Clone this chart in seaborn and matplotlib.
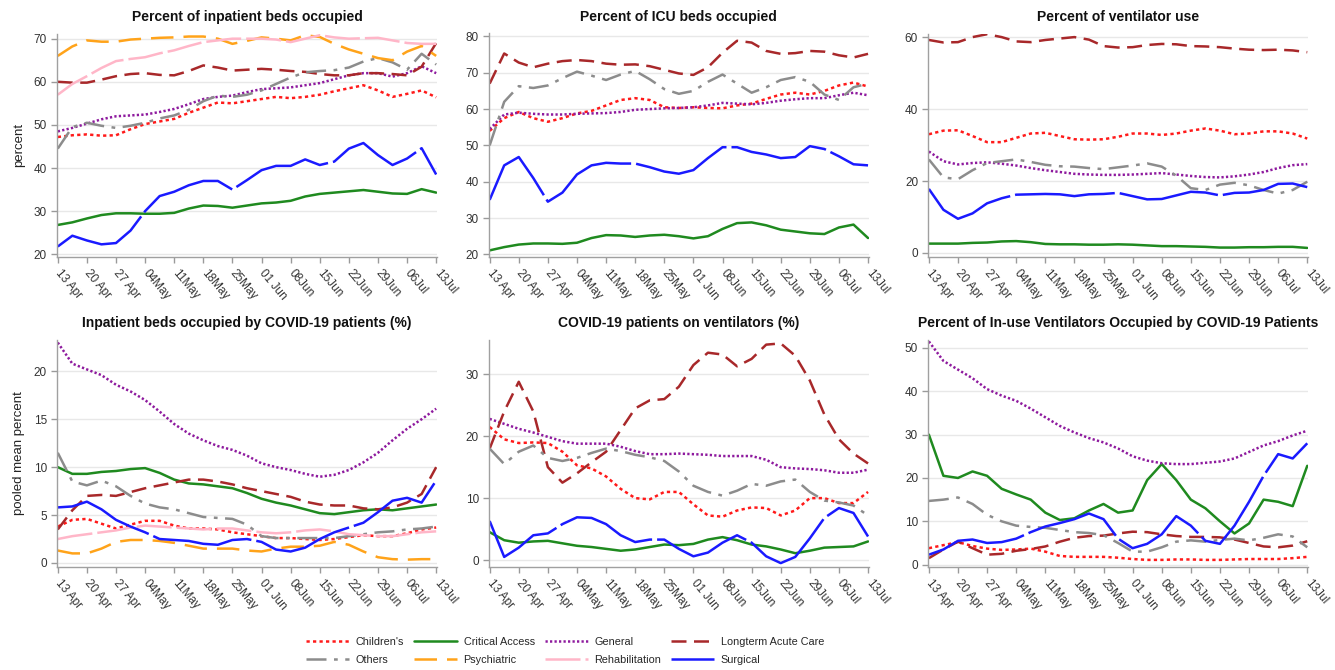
"""
Hospital capacity by hospital type, 13 Apr - 13 Jul (six small panels).
Values read off the reference at half-week steps.
"""
import numpy as np
import pandas as pd
import matplotlib
matplotlib.use("Agg")
import matplotlib.pyplot as plt
from matplotlib.lines import Line2D
import seaborn as sns

# ── data ──────────────────────────────────────────────────────────────────
START = "2020-04-13"
N_POINTS = 27                       # every 3.5 days
TICK_LABELS = ["13 Apr", "20 Apr", "27 Apr", "04May", "11May", "18May", "25May",
               "01 Jun", "08Jun", "15Jun", "22Jun", "29Jun", "06Jul", "13Jul"]

TYPES = ["Children's", "Critical Access", "General", "Longterm Acute Care",
         "Others", "Psychiatric", "Rehabilitation", "Surgical"]

# panel 1 - percent of inpatient beds occupied
beds_childrens = [47.2, 47.6, 47.8, 47.5, 47.6, 49.0, 50.2, 50.8, 51.4, 52.8, 54.0, 55.2, 55.0, 55.5,
                  56.0, 56.5, 56.2, 56.5, 57.0, 57.8, 58.5, 59.2, 58.0, 56.5, 57.2, 58.0, 56.4]
beds_critical = [26.8, 27.4, 28.3, 29.1, 29.5, 29.5, 29.4, 29.4, 29.6, 30.6, 31.3, 31.2, 30.8, 31.3,
                 31.8, 32.0, 32.4, 33.4, 34.0, 34.3, 34.6, 34.9, 34.5, 34.1, 34.0, 35.1, 34.3]
beds_general = [48.5, 49.3, 50.3, 51.3, 52.0, 52.2, 52.4, 53.0, 53.7, 54.8, 56.0, 56.5, 56.8, 57.6,
                58.3, 58.5, 58.7, 59.2, 59.7, 60.6, 61.5, 62.0, 62.0, 61.2, 62.0, 63.6, 62.0]
beds_longterm = [60.0, 59.8, 59.8, 60.5, 61.3, 61.8, 62.0, 61.6, 61.5, 62.5, 63.8, 63.3, 62.6, 62.8,
                 63.0, 62.8, 62.5, 62.3, 61.8, 61.5, 61.5, 62.0, 62.0, 61.8, 61.5, 63.5, 69.0]
beds_others = [44.5, 49.5, 50.5, 49.8, 49.3, 49.8, 50.5, 51.5, 52.2, 53.5, 55.5, 56.8, 56.5, 57.0,
               58.0, 59.5, 61.0, 62.2, 62.5, 62.7, 63.3, 64.7, 65.5, 64.5, 62.8, 66.5, 64.0]
beds_psych = [66.0, 68.2, 69.6, 69.3, 69.3, 69.8, 70.0, 70.2, 70.3, 70.5, 70.5, 70.0, 68.8, 69.5,
              70.3, 70.0, 69.6, 70.8, 70.4, 68.8, 67.5, 66.5, 65.5, 65.0, 67.0, 68.3, 66.0]
beds_rehab = [57.0, 59.5, 61.3, 63.2, 64.8, 65.3, 65.7, 66.6, 67.3, 68.3, 69.2, 69.6, 70.0, 70.0,
              70.0, 69.8, 69.2, 70.0, 70.8, 70.3, 70.0, 70.1, 70.2, 69.6, 69.0, 68.8, 68.8]
beds_surgical = [21.8, 24.3, 23.2, 22.3, 22.6, 25.5, 30.0, 33.5, 34.5, 36.0, 37.0, 37.0, 35.0, 37.2,
                 39.5, 40.5, 40.5, 42.0, 40.7, 41.5, 44.5, 45.8, 43.0, 40.7, 42.2, 44.6, 38.5]

# panel 2 - percent of ICU beds occupied
icu_childrens = [54.0, 57.5, 59.2, 57.5, 56.5, 57.5, 58.8, 59.5, 61.0, 62.5, 63.0, 62.5, 60.5, 60.3,
                 60.5, 60.3, 60.2, 61.0, 61.5, 62.8, 64.0, 64.5, 64.0, 65.0, 66.5, 67.3, 66.2]
icu_critical = [21.1, 22.0, 22.7, 23.0, 23.0, 22.9, 23.2, 24.5, 25.3, 25.2, 24.8, 25.2, 25.4, 25.0,
                24.4, 25.0, 27.0, 28.6, 28.8, 28.0, 26.8, 26.3, 25.8, 25.6, 27.4, 28.2, 24.5]
icu_general = [54.5, 58.5, 59.0, 58.7, 58.5, 58.5, 58.7, 58.8, 58.9, 59.2, 59.8, 60.0, 60.2, 60.3,
               60.5, 61.0, 61.7, 61.5, 61.3, 61.7, 62.3, 62.7, 63.0, 63.0, 63.8, 64.5, 63.8]
icu_longterm = [67.0, 75.3, 72.8, 71.5, 72.5, 73.2, 73.5, 73.2, 72.5, 72.2, 72.3, 71.8, 70.8, 69.8,
                69.4, 71.5, 75.5, 78.8, 78.3, 76.0, 75.2, 75.4, 76.0, 75.8, 74.8, 74.2, 75.2]
icu_others = [50.0, 62.0, 66.3, 65.8, 66.5, 68.5, 70.3, 69.2, 68.0, 69.5, 70.5, 68.2, 65.5, 64.2,
              65.0, 67.5, 69.5, 67.0, 64.5, 66.0, 68.0, 68.8, 67.5, 64.0, 62.5, 66.0, 67.0]
icu_surgical = [35.0, 44.5, 46.8, 41.0, 34.5, 37.0, 42.0, 44.5, 45.2, 45.0, 45.0, 44.0, 42.8, 42.2,
                43.2, 46.5, 49.5, 49.5, 48.2, 47.5, 46.5, 46.8, 49.8, 49.0, 47.0, 44.8, 44.5]

# panel 3 - percent of ventilator use
vent_childrens = [33.0, 34.0, 34.1, 32.5, 30.8, 30.8, 32.0, 33.2, 33.4, 32.5, 31.6, 31.5, 31.6, 32.3,
                  33.2, 33.2, 32.8, 33.2, 34.0, 34.6, 34.0, 33.0, 33.2, 33.8, 33.8, 33.2, 31.8]
vent_critical = [2.6, 2.6, 2.6, 2.8, 2.9, 3.2, 3.3, 3.0, 2.5, 2.4, 2.4, 2.3, 2.3, 2.4,
                 2.3, 2.1, 1.9, 1.9, 1.8, 1.7, 1.5, 1.5, 1.6, 1.6, 1.7, 1.7, 1.4]
vent_general = [28.2, 25.5, 24.6, 25.0, 25.2, 24.8, 24.3, 23.6, 23.0, 22.5, 22.0, 21.8, 21.7, 21.7,
                21.8, 22.0, 22.2, 21.8, 21.4, 21.1, 21.0, 21.3, 21.8, 22.5, 23.6, 24.4, 24.7]
vent_longterm = [59.2, 58.5, 58.6, 60.0, 60.8, 60.0, 58.8, 58.6, 59.2, 59.6, 60.0, 59.3, 57.5, 57.1,
                 57.2, 57.8, 58.1, 58.0, 57.5, 57.4, 57.2, 56.8, 56.5, 56.4, 56.5, 56.3, 55.8]
vent_others = [26.0, 21.0, 20.5, 23.0, 25.0, 25.5, 26.0, 25.3, 24.5, 24.1, 24.0, 23.6, 23.3, 23.8,
               24.3, 24.9, 24.0, 21.5, 18.0, 17.5, 19.0, 19.5, 18.8, 17.5, 16.5, 17.5, 19.8]
vent_surgical = [17.8, 12.0, 9.5, 11.0, 13.8, 15.2, 16.2, 16.3, 16.4, 16.3, 15.8, 16.3, 16.4, 16.7,
                 15.8, 14.9, 15.0, 16.0, 17.0, 16.8, 16.0, 16.7, 16.8, 17.5, 19.2, 19.3, 18.3]

# panel 4 - inpatient beds occupied by COVID-19 patients (%)
covbeds_childrens = [3.8, 4.5, 4.6, 4.1, 3.6, 4.0, 4.4, 4.4, 3.9, 3.6, 3.6, 3.5, 3.2, 3.0,
                     2.8, 2.6, 2.6, 2.5, 2.4, 2.5, 2.7, 2.9, 2.8, 2.8, 3.1, 3.5, 3.7]
covbeds_critical = [10.0, 9.3, 9.3, 9.5, 9.6, 9.8, 9.9, 9.4, 8.7, 8.3, 8.2, 8.0, 7.8, 7.3,
                    6.7, 6.3, 6.0, 5.6, 5.2, 5.1, 5.3, 5.5, 5.6, 5.5, 5.7, 5.9, 6.1]
covbeds_general = [23.0, 20.8, 20.2, 19.6, 18.6, 17.9, 17.0, 15.8, 14.5, 13.5, 12.8, 12.2, 11.8, 11.2,
                   10.4, 10.0, 9.7, 9.3, 9.0, 9.2, 9.7, 10.5, 11.5, 12.8, 14.0, 15.0, 16.1]
covbeds_longterm = [3.5, 5.5, 7.0, 7.1, 7.0, 7.4, 7.8, 8.1, 8.4, 8.7, 8.7, 8.5, 8.2, 7.8,
                    7.5, 7.2, 6.9, 6.4, 6.1, 6.0, 6.0, 5.7, 5.6, 5.8, 6.3, 7.2, 10.0]
covbeds_others = [11.5, 8.5, 8.1, 8.6, 8.0, 7.0, 6.2, 5.8, 5.6, 5.2, 4.8, 4.7, 4.6, 4.0,
                  2.8, 2.6, 2.6, 2.6, 2.6, 2.6, 2.8, 3.0, 3.2, 3.3, 3.5, 3.6, 3.8]
covbeds_psych = [1.3, 1.0, 1.0, 1.5, 2.2, 2.4, 2.4, 2.3, 2.1, 1.8, 1.5, 1.5, 1.5, 1.3,
                 1.2, 1.5, 1.7, 1.7, 1.8, 2.2, 1.9, 1.2, 0.6, 0.4, 0.35, 0.4, 0.4]
covbeds_rehab = [2.5, 2.8, 3.0, 3.2, 3.4, 3.7, 3.9, 3.8, 3.7, 3.6, 3.5, 3.6, 3.6, 3.4,
                 3.2, 3.1, 3.2, 3.4, 3.5, 3.3, 3.0, 2.9, 2.8, 2.8, 3.0, 3.2, 3.3]
covbeds_surgical = [5.8, 5.9, 6.4, 5.6, 4.5, 3.8, 3.2, 2.5, 2.4, 2.3, 2.0, 1.9, 2.4, 2.5,
                    2.2, 1.4, 1.2, 1.6, 2.5, 3.2, 3.7, 4.2, 5.3, 6.5, 6.8, 6.3, 8.6]

# panel 5 - COVID-19 patients on ventilators (%)
covvent_childrens = [21.5, 19.5, 18.9, 19.0, 18.9, 17.5, 15.3, 14.8, 13.5, 11.5, 10.0, 9.8, 11.0, 11.0,
                     9.0, 7.2, 7.0, 8.0, 8.5, 8.4, 7.2, 8.0, 10.0, 10.0, 9.2, 9.2, 11.0]
covvent_critical = [4.5, 3.2, 2.8, 3.0, 3.1, 2.7, 2.3, 2.1, 1.8, 1.5, 1.7, 2.1, 2.5, 2.4,
                    2.6, 3.3, 3.7, 3.2, 2.5, 2.2, 1.7, 1.1, 1.5, 2.0, 2.1, 2.2, 3.0]
covvent_general = [22.8, 22.0, 21.2, 20.6, 19.9, 19.2, 18.8, 18.8, 18.8, 18.3, 17.6, 17.1, 17.1, 17.2,
                   17.1, 17.0, 16.8, 16.8, 16.8, 16.2, 15.0, 14.8, 14.7, 14.5, 14.1, 14.1, 14.6]
covvent_longterm = [18.0, 24.0, 28.8, 24.0, 15.0, 12.5, 14.0, 15.8, 17.5, 21.0, 24.5, 25.8, 26.0, 28.0,
                    31.5, 33.5, 33.2, 31.3, 32.5, 34.8, 35.0, 33.0, 29.0, 23.5, 19.5, 17.2, 15.6]
covvent_others = [18.0, 15.5, 17.5, 18.5, 16.5, 16.0, 16.5, 17.3, 18.0, 17.6, 17.0, 16.6, 16.0, 14.3,
                  12.0, 11.0, 10.4, 11.2, 12.3, 12.0, 12.7, 13.0, 11.0, 9.6, 9.3, 8.8, 7.2]
covvent_surgical = [6.3, 0.5, 2.0, 4.0, 4.3, 5.8, 6.9, 6.8, 5.8, 4.0, 2.9, 3.3, 3.3, 1.8,
                    0.6, 1.2, 2.8, 4.0, 2.8, 0.6, -0.5, 0.5, 3.5, 6.8, 8.4, 7.6, 3.8]

# panel 6 - percent of in-use ventilators occupied by COVID-19 patients
inuse_childrens = [3.8, 4.5, 5.2, 4.3, 3.7, 3.4, 3.5, 3.7, 3.0, 2.0, 1.8, 1.8, 1.8, 1.6,
                   1.3, 1.1, 1.1, 1.2, 1.2, 1.1, 1.1, 1.2, 1.3, 1.3, 1.3, 1.5, 1.8]
inuse_critical = [30.0, 20.5, 20.0, 21.5, 20.5, 17.5, 16.2, 15.0, 12.0, 10.3, 10.7, 12.5, 14.0, 12.0,
                  12.5, 19.5, 23.2, 19.5, 15.0, 13.0, 10.0, 7.2, 9.5, 15.0, 14.5, 13.5, 22.8]
inuse_general = [51.5, 47.0, 45.0, 43.0, 40.5, 39.0, 37.8, 36.0, 34.0, 32.0, 30.5, 29.2, 28.2, 26.8,
                 25.0, 24.0, 23.4, 23.2, 23.2, 23.5, 23.8, 24.5, 26.0, 27.5, 28.5, 29.8, 30.9]
inuse_longterm = [1.5, 3.5, 5.3, 3.8, 2.3, 2.5, 3.2, 3.6, 4.2, 5.3, 6.2, 6.6, 6.7, 7.2,
                  7.6, 7.5, 7.0, 6.6, 6.4, 6.4, 6.3, 5.8, 5.0, 4.2, 4.0, 4.4, 5.4]
inuse_others = [14.7, 15.0, 15.5, 14.0, 11.5, 10.0, 9.0, 8.7, 8.5, 8.0, 7.5, 7.3, 6.8, 5.0,
                3.0, 3.0, 4.0, 5.3, 5.6, 5.3, 5.7, 6.0, 5.6, 6.2, 7.0, 6.5, 4.0]
inuse_surgical = [2.3, 3.5, 5.5, 5.8, 5.0, 5.2, 6.0, 7.5, 8.8, 9.6, 10.5, 11.8, 10.5, 6.0,
                  3.8, 4.8, 7.0, 11.2, 9.0, 5.5, 4.8, 9.0, 14.5, 20.5, 25.5, 24.5, 28.0]

# ── style per hospital type ───────────────────────────────────────────────
COLORS = {"Children's": "#ff1a1a", "Critical Access": "#1f8a1f", "General": "#8e1a9e",
          "Longterm Acute Care": "#a8282a", "Others": "#8c8c8c", "Psychiatric": "#ffa31a",
          "Rehabilitation": "#ffb6c8", "Surgical": "#1a1aff"}
DASHES = {"Children's": (1.3, 1.3), "Critical Access": "", "General": (0.9, 0.9),
          "Longterm Acute Care": (6, 3), "Others": (8, 3, 1.5, 3), "Psychiatric": (9, 4),
          "Rehabilitation": (14, 2), "Surgical": (40, 2)}

PANELS = [
    dict(title="Percent of inpatient beds occupied", ylabel="percent",
         ylim=(19.3, 71.2), yticks=range(20, 71, 10),
         series={"Children's": beds_childrens, "Critical Access": beds_critical,
                 "General": beds_general, "Longterm Acute Care": beds_longterm,
                 "Others": beds_others, "Psychiatric": beds_psych,
                 "Rehabilitation": beds_rehab, "Surgical": beds_surgical}),
    dict(title="Percent of ICU beds occupied", ylabel="",
         ylim=(19.2, 80.8), yticks=range(20, 81, 10),
         series={"Children's": icu_childrens, "Critical Access": icu_critical,
                 "General": icu_general, "Longterm Acute Care": icu_longterm,
                 "Others": icu_others, "Surgical": icu_surgical}),
    dict(title="Percent of ventilator use", ylabel="",
         ylim=(-1.2, 61.0), yticks=range(0, 61, 20),
         series={"Children's": vent_childrens, "Critical Access": vent_critical,
                 "General": vent_general, "Longterm Acute Care": vent_longterm,
                 "Others": vent_others, "Surgical": vent_surgical}),
    dict(title="Inpatient beds occupied by COVID-19 patients (%)", ylabel="pooled mean percent",
         ylim=(-0.4, 23.3), yticks=range(0, 21, 5),
         series={"Children's": covbeds_childrens, "Critical Access": covbeds_critical,
                 "General": covbeds_general, "Longterm Acute Care": covbeds_longterm,
                 "Others": covbeds_others, "Psychiatric": covbeds_psych,
                 "Rehabilitation": covbeds_rehab, "Surgical": covbeds_surgical}),
    dict(title="COVID-19 patients on ventilators (%)", ylabel="",
         ylim=(-1.1, 35.6), yticks=range(0, 31, 10),
         series={"Children's": covvent_childrens, "Critical Access": covvent_critical,
                 "General": covvent_general, "Longterm Acute Care": covvent_longterm,
                 "Others": covvent_others, "Surgical": covvent_surgical}),
    dict(title="Percent of In-use Ventilators Occupied by COVID-19 Patients", ylabel="",
         ylim=(-0.5, 51.9), yticks=range(0, 51, 10),
         series={"Children's": inuse_childrens, "Critical Access": inuse_critical,
                 "General": inuse_general, "Longterm Acute Care": inuse_longterm,
                 "Others": inuse_others, "Surgical": inuse_surgical}),
]

# axes boxes in figure fractions (left, bottom, width, height)
BOXES = [(0.0425, 0.616, 0.285, 0.334), (0.366, 0.616, 0.285, 0.334), (0.695, 0.616, 0.285, 0.334),
         (0.0425, 0.154, 0.285, 0.339), (0.366, 0.154, 0.285, 0.339), (0.695, 0.154, 0.285, 0.339)]


def main():
    sns.set_style("white")
    plt.rcParams["font.family"] = ["Liberation Sans", "DejaVu Sans"]

    dates = pd.date_range(START, periods=N_POINTS, freq="84h")
    ticks = pd.date_range(START, periods=len(TICK_LABELS), freq="7D")

    fig = plt.figure(figsize=(13.35, 6.7), dpi=100)

    for box, p in zip(BOXES, PANELS):
        ax = fig.add_axes(box)
        df = pd.concat([pd.DataFrame({"date": dates, "value": v, "type": k})
                        for k, v in p["series"].items()], ignore_index=True)
        order = [t for t in TYPES if t in p["series"]]
        sns.lineplot(data=df, x="date", y="value", hue="type", style="type",
                     hue_order=order, style_order=order,
                     palette=COLORS, dashes=DASHES, linewidth=1.8,
                     legend=False, ax=ax)

        ax.set_xlim(ticks[0] - pd.Timedelta("6h"), ticks[-1] + pd.Timedelta("6h"))
        ax.set_ylim(*p["ylim"])
        ax.set_yticks(list(p["yticks"]))
        ax.set_xticks(ticks)
        ax.set_xticklabels(TICK_LABELS, rotation=-50, ha="left", va="center",
                           rotation_mode="anchor")
        ax.tick_params(axis="both", labelsize=8.5, colors="#333333", length=4,
                       width=1, direction="out", pad=3, bottom=True, left=True)
        ax.tick_params(axis="x", color="#9a9a9a", pad=6)
        ax.tick_params(axis="y", color="#9a9a9a")
        ax.grid(axis="y", color="#e8e8e8", linewidth=1)
        ax.set_axisbelow(True)
        for side in ("top", "right"):
            ax.spines[side].set_visible(False)
        for side in ("left", "bottom"):
            ax.spines[side].set_color("#a0a0a0")
            ax.spines[side].set_linewidth(1)
        ax.set_xlabel("")
        ax.set_ylabel(p["ylabel"], fontsize=9.5, color="#222222", labelpad=6)
        ax.set_title(p["title"], fontsize=10, fontweight="bold", color="#111111", pad=9)

    # legend: two rows, filled row by row
    row_order = ["Children's", "Others", "Critical Access", "Psychiatric",
                 "General", "Rehabilitation", "Longterm Acute Care", "Surgical"]
    handles = []
    for t in row_order:
        d = DASHES[t]
        h = Line2D([], [], color=COLORS[t], linewidth=1.8,
                   linestyle="-" if d == "" else (0, d))
        handles.append(h)
    fig.legend(handles, row_order, ncol=4, loc="center",
               bbox_to_anchor=(565 / 1335, 1 - 651 / 670), frameon=False,
               fontsize=7.8, handlelength=4.0, handletextpad=0.6,
               columnspacing=0.9, labelspacing=0.75)

    fig.savefig("out.png", dpi=100)


if __name__ == "__main__":
    main()
